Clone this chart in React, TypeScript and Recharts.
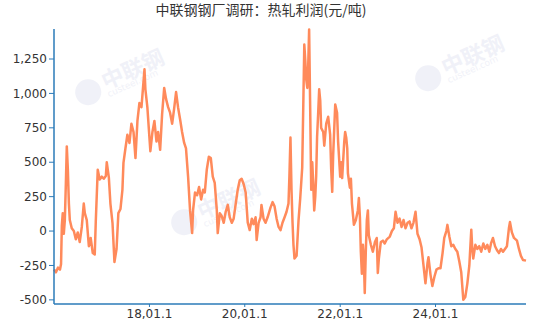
import { CartesianGrid, Line, LineChart, XAxis, YAxis } from 'recharts'

const title = '中联钢钢厂调研：热轧利润(元/吨)'

const dates = [
  '2016-01-01', '2016-01-16', '2016-02-01', '2016-02-16', '2016-02-24', '2016-03-01', '2016-03-08', '2016-03-16', '2016-03-24',
  '2016-04-01', '2016-04-08', '2016-04-16', '2016-04-24', '2016-05-01', '2016-05-16', '2016-06-01', '2016-06-16', '2016-07-01',
  '2016-07-16', '2016-08-01', '2016-08-16', '2016-08-24', '2016-09-08', '2016-09-24', '2016-10-08', '2016-10-24', '2016-11-08',
  '2016-11-16', '2016-12-01', '2016-12-16',
  '2017-01-01', '2017-01-16', '2017-02-01', '2017-02-08', '2017-02-24', '2017-03-08', '2017-03-24', '2017-04-08', '2017-04-24',
  '2017-05-08', '2017-05-24', '2017-06-08', '2017-06-16', '2017-07-01', '2017-07-16', '2017-08-01', '2017-08-16', '2017-09-01',
  '2017-09-16', '2017-10-01', '2017-10-16', '2017-11-01', '2017-11-16', '2017-11-24', '2017-12-01', '2017-12-16',
  '2018-01-08', '2018-01-24', '2018-02-08', '2018-02-24', '2018-03-08', '2018-03-24', '2018-04-08', '2018-04-24', '2018-05-08',
  '2018-05-24', '2018-06-08', '2018-06-24', '2018-07-08', '2018-07-24', '2018-08-08', '2018-08-24', '2018-09-08', '2018-09-24',
  '2018-10-08', '2018-10-24', '2018-11-08', '2018-11-24', '2018-12-01', '2018-12-16',
  '2019-01-01', '2019-01-16', '2019-02-01', '2019-02-16', '2019-03-01', '2019-03-16', '2019-04-01', '2019-04-16', '2019-05-01',
  '2019-05-16', '2019-06-01', '2019-06-08', '2019-06-24', '2019-07-08', '2019-07-24', '2019-08-08', '2019-08-24', '2019-09-08',
  '2019-09-24', '2019-10-08', '2019-10-24', '2019-11-08', '2019-11-24', '2019-12-08', '2019-12-24',
  '2020-01-08', '2020-01-24', '2020-02-08', '2020-02-24', '2020-03-08', '2020-03-24', '2020-04-01', '2020-04-16', '2020-05-01',
  '2020-05-08', '2020-05-24', '2020-06-08', '2020-06-24', '2020-07-16', '2020-08-01', '2020-08-16', '2020-09-01', '2020-09-16',
  '2020-10-01', '2020-10-16', '2020-11-01', '2020-11-16', '2020-12-01', '2020-12-08', '2020-12-16', '2020-12-24',
  '2021-01-01', '2021-01-08', '2021-01-16', '2021-02-01', '2021-02-16', '2021-03-01', '2021-03-16', '2021-03-24', '2021-04-01',
  '2021-04-08', '2021-04-16', '2021-04-24', '2021-05-01', '2021-05-08', '2021-05-16', '2021-05-24', '2021-06-01', '2021-06-08',
  '2021-06-16', '2021-06-24', '2021-07-01', '2021-07-08', '2021-07-16', '2021-07-24', '2021-08-01', '2021-08-08', '2021-08-24',
  '2021-09-01', '2021-09-16', '2021-10-01', '2021-10-16', '2021-10-24', '2021-11-01', '2021-11-08', '2021-11-24', '2021-12-08',
  '2021-12-16',
  '2022-01-01', '2022-01-08', '2022-01-16', '2022-02-01', '2022-02-08', '2022-02-16', '2022-02-24', '2022-03-01', '2022-03-16',
  '2022-03-24', '2022-04-01', '2022-04-16', '2022-05-01', '2022-05-16', '2022-05-24', '2022-06-01', '2022-06-08', '2022-06-16',
  '2022-06-24', '2022-07-01', '2022-07-08', '2022-07-16', '2022-07-24', '2022-08-01', '2022-08-08', '2022-08-24', '2022-09-08',
  '2022-09-24', '2022-10-08', '2022-10-16', '2022-10-24', '2022-11-08', '2022-11-24', '2022-12-08', '2022-12-24',
  '2023-01-16', '2023-02-01', '2023-02-16', '2023-03-01', '2023-03-16', '2023-04-01', '2023-04-16', '2023-05-01', '2023-05-16',
  '2023-06-01', '2023-06-16', '2023-07-01', '2023-07-16', '2023-08-01', '2023-08-16', '2023-09-01', '2023-09-16', '2023-10-01',
  '2023-10-16', '2023-11-01', '2023-11-08', '2023-11-24', '2023-12-08', '2023-12-24',
  '2024-01-08', '2024-01-24', '2024-02-08', '2024-02-24', '2024-03-08', '2024-03-24', '2024-04-01', '2024-04-16', '2024-05-01',
  '2024-05-16', '2024-06-01', '2024-06-16', '2024-07-01', '2024-07-16', '2024-08-01', '2024-08-16', '2024-09-01', '2024-09-16',
  '2024-10-01', '2024-10-08', '2024-10-16', '2024-11-01', '2024-11-16', '2024-12-01', '2024-12-16',
  '2025-01-01', '2025-01-16', '2025-02-01', '2025-02-16', '2025-03-01', '2025-03-16', '2025-04-01', '2025-04-16', '2025-05-01',
  '2025-05-16', '2025-06-01', '2025-06-16', '2025-07-01', '2025-07-16', '2025-07-24', '2025-08-08', '2025-08-24', '2025-09-16',
  '2025-10-01', '2025-10-16', '2025-11-01', '2025-11-24',
]

// 热轧利润 元/吨
const profit = [
  -280, -300, -265, -280, -240, 40, 130, -20, 80,
  350, 615, 450, 200, 80, 20, 0, -60, -10,
  -80, 30, 200, 130, 80, -110, -50, -160, -170,
  70, 445, 375,
  395, 380, 400, 500, 390, 200, 60, -225, -130,
  130, 160, 300, 495, 600, 700, 640, 780, 720,
  530, 800, 930, 900, 1080, 1175, 1030, 900,
  580, 720, 800, 650, 720, 590, 850, 1040, 960,
  900, 860, 780, 880, 1010, 900, 810, 720, 640,
  600, 395, 150, -15, 150, 280,
  260, 320, 230, 300, 280, 445, 540, 530, 395,
  350, 150, -15, 130, 110, 60, 140, 190, 100,
  60, 90, 200, 300, 370, 380, 340,
  280, 60, 7, 90, 50, 100, -65, 60, 100,
  190, 90, 60, 100, 170, 210, 180, 90, 30,
  7, 60, 100, 140, 200, 400, 680, 300,
  60, -100, -200, -180, 80, 240, 460, 900, 1355,
  1250, 1100, 1040, 1200, 1465, 900, 300, 500, 355,
  150, 250, 400, 685, 850, 1030, 950, 750, 720,
  620, 780, 830, 700, 450, 285, 550, 920, 860,
  650,
  395, 500, 385, 650, 720, 680, 600, 420, 315,
  380, 200, 45, 80, 150, 240, 100, -150, -310,
  -100, -200, -450, -150, 80, 150, -30, -100, -150,
  -80, -50, -305, -200, -80, -70, -90, -60,
  -40, 0, 20, 140, 60, 90, 30, 80, 20,
  60, 70, 20, 60, 140, -20, -60, -120, -250,
  -380, -230, -190, -320, -400, -330,
  -280, -270, -270, -160, -50, 0, 45, -40, -110,
  -100, -130, -150, -220, -300, -500, -480, -380, -250,
  10, -120, -200, -100, -130, -110, -150,
  -90, -130, -100, -150, -90, -50, -110, -140, -160,
  -130, -150, -130, -110, 20, 65, -10, -50, -70,
  -130, -180, -210, -215,
]

const tickDates = ['2018-01-01', '2020-01-01', '2022-01-01', '2024-01-01']
const tickLabels = ['18,01.1', '20,01.1', '22,01.1', '24,01.1']
const yTicks = [-500, -250, 0, 250, 500, 750, 1000, 1250]

const toTime = (d: string) => Date.parse(d + 'T00:00:00Z')

const rows = dates.map((d, i) => ({ t: toTime(d), value: profit[i] }))
const xTicks = tickDates.map(toTime)

const axisBlue = '#2b7bb9'
const tickFont = { fontSize: 12, fill: '#333', fontFamily: 'DejaVu Sans' }

function Watermark({ left, top }: { left: number; top: number }) {
  return (
    <div
      style={{
        position: 'absolute',
        left,
        top,
        transform: 'rotate(-24deg)',
        display: 'flex',
        alignItems: 'center',
        pointerEvents: 'none',
        opacity: 0.3,
      }}
    >
      <div style={{ width: 26, height: 26, borderRadius: 13, background: '#cfd3ea', marginRight: 4 }} />
      <div style={{ lineHeight: 1 }}>
        <div style={{ fontFamily: 'Noto Sans CJK SC', fontSize: 22, fontWeight: 700, color: '#cfd3ea' }}>中联钢</div>
        <div style={{ fontFamily: 'DejaVu Sans', fontSize: 9, color: '#cfd3ea' }}>custeel.com</div>
      </div>
    </div>
  )
}

export default function App() {
  return (
    <div style={{ position: 'absolute', left: 0, top: 0, width: 535, height: 327, background: '#fff' }}>
      <div
        style={{
          position: 'absolute',
          top: 0,
          left: 0,
          width: 522,
          textAlign: 'center',
          fontFamily: 'Noto Sans CJK SC',
          fontSize: 14,
          color: '#333',
          lineHeight: '18px',
        }}
      >
        {title}
      </div>
      <Watermark left={72} top={62} />
      <Watermark left={168} top={192} />
      <Watermark left={412} top={48} />
      <div style={{ position: 'absolute', left: 0, top: 0 }}>
        <LineChart width={535} height={327} data={rows} margin={{ top: 29, right: 9, bottom: 0, left: 0 }}>
          <CartesianGrid stroke="none" />
          <XAxis
            dataKey="t"
            type="number"
            scale="time"
            domain={['dataMin', 'dataMax']}
            ticks={xTicks}
            tickFormatter={(v: number) => tickLabels[xTicks.indexOf(v)] ?? ''}
            height={23}
            tickSize={3}
            tick={tickFont}
            axisLine={{ stroke: axisBlue, strokeWidth: 1.5 }}
            tickLine={{ stroke: axisBlue }}
          />
          <YAxis
            type="number"
            domain={[-530, 1468]}
            ticks={yTicks}
            tickFormatter={(v: number) => v.toLocaleString('en-US')}
            width={54}
            tickSize={5}
            tick={tickFont}
            axisLine={{ stroke: axisBlue, strokeWidth: 1.5 }}
            tickLine={{ stroke: axisBlue }}
          />
          <Line
            type="linear"
            dataKey="value"
            stroke="#ff8a5b"
            strokeWidth={2.5}
            strokeLinejoin="round"
            dot={false}
            isAnimationActive={false}
          />
        </LineChart>
      </div>
    </div>
  )
}
